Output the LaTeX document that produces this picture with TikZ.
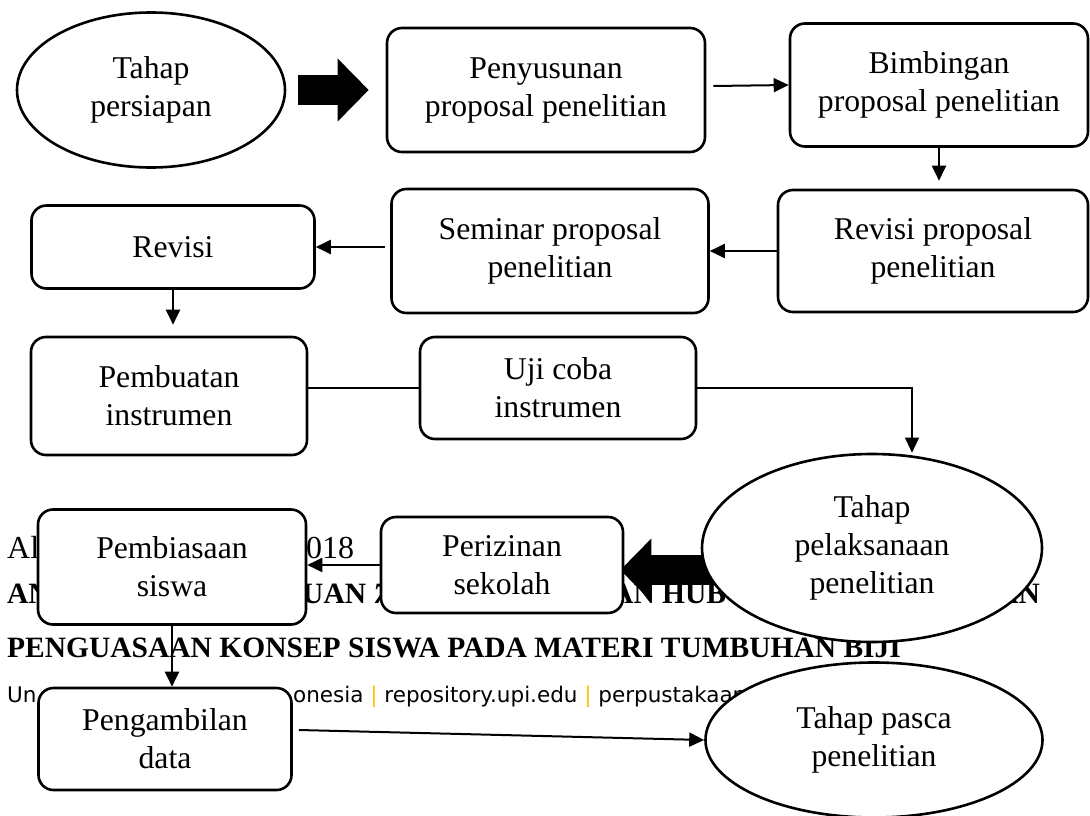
\documentclass[tikz,border=0pt]{standalone}
\usepackage{fontspec}
\setmainfont{Liberation Serif}
\newfontfamily\footersans{DejaVu Sans}
\definecolor{upigold}{HTML}{FFC000}
\usetikzlibrary{arrows.meta,shapes.geometric,backgrounds,calc}
\newcommand{\stagefont}{\fontsize{31.7}{38}\selectfont}
\tikzset{
    stagebox/.style={
        draw=black,
        fill=white,
        rounded corners=15pt,
        line width=2.6pt,
        inner sep=2pt,
        align=center,
        font=\stagefont
    },
    stageellipse/.style={
        draw=black,
        fill=white,
        ellipse,
        line width=2.6pt,
        inner sep=0pt,
        align=center,
        font=\stagefont
    },
    stagearrow/.style={
        -{Triangle[length=15pt,width=14pt]},
        draw=black,
        line width=2pt
    },
    stageline/.style={
        draw=black,
        line width=1.1pt
    },
    stagethinarrow/.style={
        stageline,
        -{Triangle[length=15pt,width=14pt]}
    },
    blockarrow/.style={
        -{Triangle[length=31pt,width=61pt]},
        draw=black,
        line width=30pt
    },
    footerserif/.style={
        anchor=base west,
        inner sep=0pt,
        font=\fontsize{32}{38}\selectfont
    },
    footerbold/.style={
        anchor=base west,
        inner sep=0pt,
        font=\bfseries\fontsize{29.5}{35}\selectfont
    },
    footerweb/.style={
        anchor=base west,
        inner sep=0pt,
        font=\footersans\fontsize{21.5}{26}\selectfont
    }
}

\begin{document}
\begin{tikzpicture}[x=1pt,y=-1pt]
    \useasboundingbox (0,0) rectangle (1090,816);

    % preparation
    \node[stageellipse,minimum width=268pt,minimum height=155pt] (persiapan) at (151,90)
        {Tahap\\persiapan};
    \node[stagebox,minimum width=318pt,minimum height=124pt] (penyusunan) at (546,90)
        {Penyusunan\\proposal penelitian};
    \node[stagebox,minimum width=298pt,minimum height=123pt] (bimbingan) at (939,85)
        {Bimbingan\\proposal penelitian};
    \node[stagebox,minimum width=310pt,minimum height=122pt] (revproposal) at (933,251)
        {Revisi proposal\\penelitian};
    \node[stagebox,minimum width=317pt,minimum height=124pt] (seminar) at (550,251)
        {Seminar proposal\\penelitian};
    \node[stagebox,minimum width=283pt,minimum height=83pt] (revisi) at (173,247)
        {Revisi};
    \node[stagebox,minimum width=276pt,minimum height=118pt] (pembuatan) at (169,396)
        {Pembuatan\\instrumen};
    \node[stagebox,minimum width=276pt,minimum height=102pt] (ujicoba) at (558,388)
        {Uji coba\\instrumen};

    % implementation
    \node[stageellipse,minimum width=340pt,minimum height=188pt] (pelaksanaan) at (872,548)
        {Tahap\\pelaksanaan\\penelitian};
    \node[stagebox,minimum width=242pt,minimum height=96pt] (perizinan) at (502,565)
        {Perizinan\\sekolah};
    \node[stagebox,minimum width=268pt,minimum height=115pt] (pembiasaan) at (172,567)
        {Pembiasaan\\siswa};
    \node[stagebox,minimum width=253pt,minimum height=102pt] (pengambilan) at (165,739)
        {Pengambilan\\data};

    % after research
    \node[stageellipse,minimum width=337pt,minimum height=155pt] (pasca) at (874,740)
        {Tahap pasca\\penelitian};

    % page text behind the chart
    \begin{scope}[on background layer]
        \node[footerserif] (authorA) at (7,558) {Al};
        \node[footerserif] (authorB) at (306,558) {018};
        \node[footerbold] (titleA) at (7,603) {AN};
        \node[footerbold] (titleB) at (302,603) {UAN \textit{7}};
        \node[footerbold] (titleC) at (612,603) {AN HUB};
        \node[footerbold,anchor=base east] (titleD) at (1040,603) {AN};
        \node[footerbold] (titleE) at (7,657)
            {PENGUASAAN KONSEP SISWA PADA MATERI TUMBUHAN BIJI};
        \node[footerweb] (webA) at (7,702) {Un};
        \node[footerweb] (webB) at (293,702)
            {onesia {\color{upigold}|} repository.upi.edu {\color{upigold}|} perpustakaan};
        \draw[blockarrow,shorten >=-4pt] (pelaksanaan.center |- 0,570) -- (perizinan.east |- 0,570);
    \end{scope}

    \draw[blockarrow,shorten <=12pt,shorten >=17pt] (persiapan.east) -- (penyusunan.west);
    \draw[stagearrow] ($(penyusunan.east)+(7,-4)$) -- (bimbingan.west);
    \draw[stagearrow,shorten >=8pt] (bimbingan.south) -- (bimbingan.south |- revproposal.north);
    \draw[stagearrow] (revproposal.west) -- (seminar.east);
    \draw[stagearrow,shorten <=5pt] (seminar.west |- revisi.east) -- (revisi.east);
    \draw[stagearrow,shorten >=11pt] (revisi.south) -- (revisi.south |- pembuatan.north);
    \draw[stageline] (pembuatan.east |- ujicoba.west) -- (ujicoba.west);
    \draw[stagethinarrow] (ujicoba.east) -| ([xshift=40pt]pelaksanaan.north);
    \draw[stagearrow] (perizinan.west) -- (perizinan.west -| pembiasaan.east);
    \draw[stagearrow] (pembiasaan.south) -- (pembiasaan.south |- pengambilan.north);
    \draw[stagearrow] ($(pengambilan.east)+(6,-9)$) -- (pasca.west);
\end{tikzpicture}
\end{document}
